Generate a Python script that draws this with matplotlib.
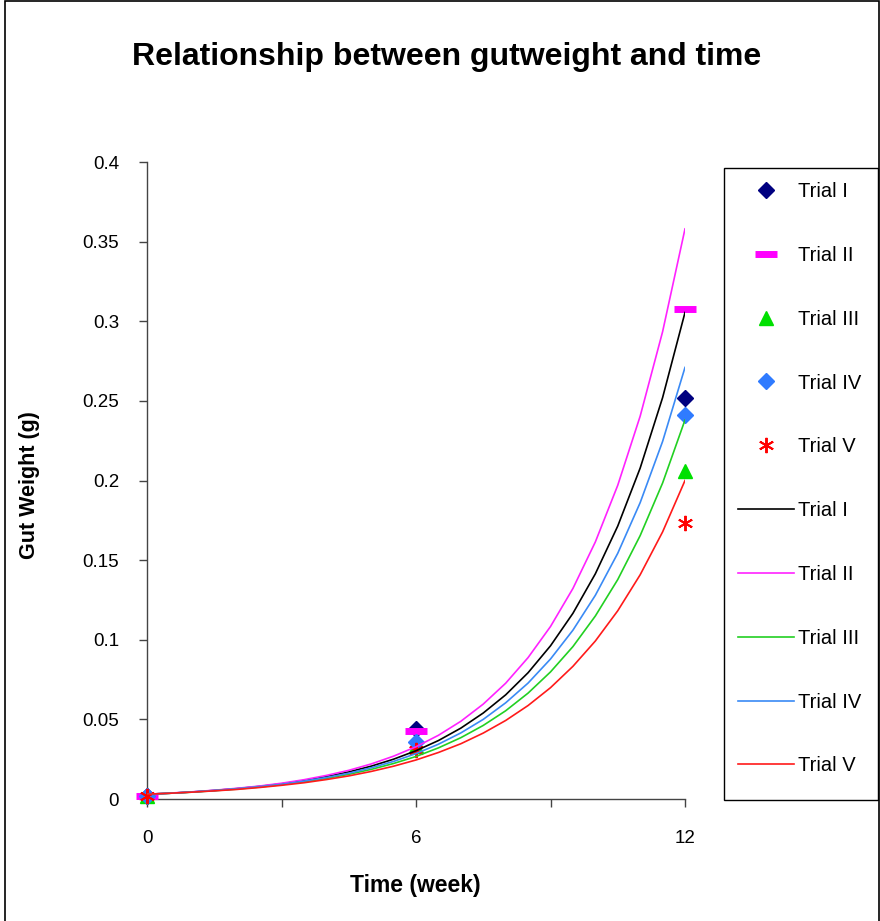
import matplotlib
matplotlib.use("Agg")
import matplotlib.pyplot as plt
from matplotlib.patches import Rectangle

plt.rcParams['font.family'] = ['Liberation Sans', 'DejaVu Sans']

# measured gut weight (g) per trial
weeks = [0, 6, 12]
trial_i = [0.002, 0.044, 0.252]
trial_ii = [0.002, 0.043, 0.308]
trial_iii = [0.002, 0.033, 0.206]
trial_iv = [0.002, 0.036, 0.241]
trial_v = [0.002, 0.031, 0.173]

# exponential trend curves, sampled every half week
trend_weeks = [i * 0.5 for i in range(25)]
trend_i = [0.0030, 0.0036, 0.0044, 0.0054, 0.0065, 0.0079, 0.0095, 0.0116,
           0.0140, 0.0170, 0.0206, 0.0250, 0.0303, 0.0367, 0.0445, 0.0540,
           0.0654, 0.0793, 0.0962, 0.1166, 0.1414, 0.1714, 0.2078, 0.2520, 0.3055]
trend_ii = [0.0030, 0.0037, 0.0045, 0.0055, 0.0067, 0.0081, 0.0099, 0.0121,
            0.0148, 0.0180, 0.0220, 0.0269, 0.0328, 0.0400, 0.0488, 0.0596,
            0.0727, 0.0888, 0.1083, 0.1322, 0.1614, 0.1970, 0.2404, 0.2934, 0.3580]
trend_iii = [0.0030, 0.0036, 0.0043, 0.0052, 0.0062, 0.0075, 0.0090, 0.0108,
             0.0129, 0.0155, 0.0186, 0.0223, 0.0267, 0.0321, 0.0385, 0.0462,
             0.0554, 0.0665, 0.0798, 0.0957, 0.1149, 0.1378, 0.1654, 0.1984, 0.2380]
trend_iv = [0.0030, 0.0036, 0.0044, 0.0053, 0.0064, 0.0077, 0.0092, 0.0112,
            0.0135, 0.0162, 0.0196, 0.0236, 0.0285, 0.0344, 0.0415, 0.0500,
            0.0604, 0.0728, 0.0879, 0.1060, 0.1279, 0.1543, 0.1861, 0.2245, 0.2710]
trend_v = [0.0030, 0.0036, 0.0043, 0.0051, 0.0060, 0.0072, 0.0086, 0.0102,
           0.0122, 0.0145, 0.0173, 0.0206, 0.0245, 0.0292, 0.0347, 0.0414,
           0.0493, 0.0587, 0.0699, 0.0833, 0.0992, 0.1182, 0.1408, 0.1677, 0.2000]

labels = ['Trial I', 'Trial II', 'Trial III', 'Trial IV', 'Trial V']
points = [trial_i, trial_ii, trial_iii, trial_iv, trial_v]
trends = [trend_i, trend_ii, trend_iii, trend_iv, trend_v]

marker_styles = [
    dict(marker='D', color='#000080', markersize=8),
    dict(marker='_', color='#FF00FF', markersize=16, markeredgewidth=5),
    dict(marker='^', color='#00E000', markersize=10),
    dict(marker='D', color='#2F7BFF', markersize=8),
    dict(marker=(6, 2, 0), color='#FF0000', markersize=11, markeredgewidth=1.4),
]
line_colors = ['#000000', '#FF22FF', '#22D022', '#3A8AF5', '#FF1A1A']

fig = plt.figure(figsize=(8.8, 9.21), dpi=100)
ax = fig.add_axes([147 / 880, 1 - 799 / 921, 538 / 880, 637 / 921])

handles = []
for lab, ys, st in zip(labels, points, marker_styles):
    h, = ax.plot(weeks, ys, linestyle='none', clip_on=False, zorder=3, **st)
    handles.append(h)
for lab, ys, c in zip(labels, trends, line_colors):
    h, = ax.plot(trend_weeks, ys, color=c, lw=1.2, zorder=4)
    handles.append(h)

ax.set_xlim(0, 12)
ax.set_ylim(0, 0.4)
ax.set_xticks([0, 3, 6, 9, 12])
ax.set_xticklabels(['0', '', '6', '', '12'])
ax.set_yticks([0, 0.05, 0.1, 0.15, 0.2, 0.25, 0.3, 0.35, 0.4])
ax.set_yticklabels(['0', '0.05', '0.1', '0.15', '0.2', '0.25', '0.3', '0.35', '0.4'])
ax.tick_params(direction='out', length=6, width=1, labelsize=13.5, color='#444444')
ax.tick_params(axis='x', pad=16)
ax.tick_params(axis='y', pad=14)
for s in ['top', 'right']:
    ax.spines[s].set_visible(False)
for s in ['left', 'bottom']:
    ax.spines[s].set_color('#444444')
    ax.spines[s].set_linewidth(1)

fig.text(0.507, 1 - 57 / 921, 'Relationship between gutweight and time', ha='center',
         va='center', fontsize=23, fontweight='bold')
fig.text(415 / 880, 1 - 885 / 921, 'Time (week)', ha='center', va='center',
         fontsize=16.5, fontweight='bold')
fig.text(30 / 880, 1 - 485 / 921, 'Gut Weight (g)', ha='center', va='center',
         rotation=90, fontsize=15.5, fontweight='bold')

legend_labels = labels + labels
leg = fig.legend(handles, legend_labels, loc='upper left',
                 bbox_to_anchor=(724 / 880, 1 - 168 / 921),
                 frameon=False, fontsize=14.5, handlelength=2.8,
                 handletextpad=0.15, labelspacing=2.225, borderpad=0.7,
                 borderaxespad=0)

# legend box and outer chart border
fig.patches.append(Rectangle((724 / 880, 1 - 800 / 921), 154 / 880, 632 / 921,
                             transform=fig.transFigure, fill=False,
                             edgecolor='black', linewidth=1.0))
fig.patches.append(Rectangle((5 / 880, -0.01), 874 / 880, 1.01 - 1 / 921,
                             transform=fig.transFigure, fill=False,
                             edgecolor='black', linewidth=1.2))

fig.savefig('out.png', dpi=100)
